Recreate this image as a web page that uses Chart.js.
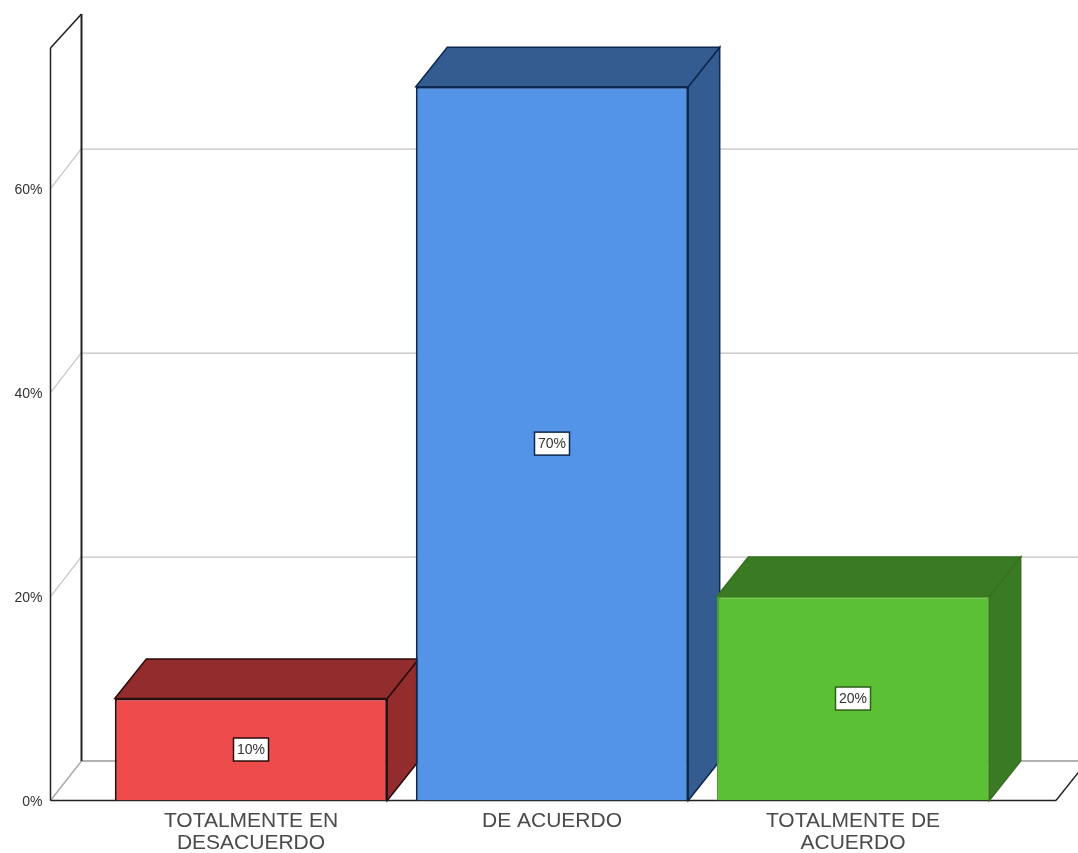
<!DOCTYPE html>
<html>
<head>
<meta charset="utf-8">
<title>Grafico</title>
<script src="https://cdn.jsdelivr.net/npm/chart.js@4"></script>
<style>
  html, body { margin: 0; padding: 0; background: #fff; }
  canvas { display: block; }
</style>
</head>
<body>
<canvas id="myChart" width="1078" height="853"></canvas>
<script>
// datos
const categorias = [['TOTALMENTE EN', 'DESACUERDO'], ['DE ACUERDO'], ['TOTALMENTE DE', 'ACUERDO']];
const porcentajes = [10, 70, 20];
const yTicks = [0, 20, 40, 60];

const colorFrente = ['#ee4b4c', '#5494e6', '#5cc035'];
const colorLado = ['#922c2d', '#345c90', '#3a7a22'];
const colorBorde = ['#2a0c0c', '#0c2750', '#4fa02c'];
const colorBordeLado = ['#2a0c0c', '#0c2750', '#37701f'];

// profundidad del efecto 3D
const dx = 31.5;
const dy = 39.5;

function linea(ctx, x1, y1, x2, y2, color, ancho) {
  ctx.beginPath();
  ctx.moveTo(x1, y1);
  ctx.lineTo(x2, y2);
  ctx.strokeStyle = color;
  ctx.lineWidth = ancho;
  ctx.stroke();
}

function cara(ctx, puntos, relleno, borde) {
  ctx.beginPath();
  puntos.forEach(function (p, i) {
    if (i == 0) ctx.moveTo(p[0], p[1]);
    else ctx.lineTo(p[0], p[1]);
  });
  ctx.closePath();
  ctx.fillStyle = relleno;
  ctx.fill();
  ctx.strokeStyle = borde;
  ctx.lineWidth = 1.5;
  ctx.stroke();
}

// paredes, piso y lineas de fondo
const fondo3d = {
  id: 'fondo3d',
  beforeDatasetsDraw: function (chart) {
    const ctx = chart.ctx;
    const y = chart.scales.y;
    const area = chart.chartArea;
    const xFrente = area.left - 50;
    const xFondo = xFrente + 31;
    const xDer = area.right + 52.5;
    const piso = y.getPixelForValue(0);

    ctx.save();
    yTicks.forEach(function (v) {
      if (v == 0) return;
      const py = y.getPixelForValue(v);
      linea(ctx, xFrente, py, xFondo, py - dy - 0.5, '#c6c6c6', 1.3);
      linea(ctx, xFondo, py - dy, chart.width, py - dy, '#c2c2c2', 1.3);
    });
    // piso
    linea(ctx, xFrente, piso, xFondo, piso - dy, '#aaaaaa', 1.5);
    linea(ctx, xFondo, piso - dy, chart.width, piso - dy, '#999999', 1.5);
    linea(ctx, xDer, piso, xDer + dx, piso - dy, '#222222', 1.5);
    linea(ctx, xFrente, piso, xDer, piso, '#222222', 1.6);
    // paredes
    linea(ctx, xFrente, area.top, xFrente, piso, '#222222', 1.5);
    linea(ctx, xFrente, area.top, xFondo, 14, '#222222', 1.6);
    linea(ctx, xFondo, 14, xFondo, piso - dy, '#222222', 2);

    // caras de arriba y de lado de cada barra
    const barras = chart.getDatasetMeta(0).data;
    barras.forEach(function (b, i) {
      const izq = b.x - b.width / 2;
      const der = b.x + b.width / 2;
      cara(ctx, [[der, b.y], [der + dx, b.y - dy], [der + dx, b.base - dy], [der, b.base]], colorLado[i], colorBordeLado[i]);
      cara(ctx, [[izq, b.y], [izq + dx, b.y - dy], [der + dx, b.y - dy], [der, b.y]], colorLado[i], colorBordeLado[i]);
    });
    ctx.restore();
  }
};

// etiqueta blanca al centro de cada barra
const etiquetas = {
  id: 'etiquetas',
  afterDatasetsDraw: function (chart) {
    const ctx = chart.ctx;
    const barras = chart.getDatasetMeta(0).data;
    ctx.save();
    ctx.font = '14px "Liberation Sans", Arial, sans-serif';
    ctx.textAlign = 'center';
    ctx.textBaseline = 'middle';
    barras.forEach(function (b, i) {
      const cy = (b.y + b.base) / 2;
      ctx.fillStyle = '#ffffff';
      ctx.fillRect(b.x - 17.5, cy - 11.5, 35, 23);
      ctx.strokeStyle = i == 2 ? '#2f5f1c' : colorBorde[i];
      ctx.lineWidth = 1.5;
      ctx.strokeRect(b.x - 17.5, cy - 11.5, 35, 23);
      ctx.fillStyle = '#333333';
      ctx.fillText(porcentajes[i] + '%', b.x, cy + 0.5);
    });
    ctx.restore();
  }
};

const ctx = document.getElementById('myChart').getContext('2d');
const myChart = new Chart(ctx, {
  type: 'bar',
  data: {
    labels: categorias,
    datasets: [{
      data: porcentajes,
      backgroundColor: colorFrente,
      borderColor: colorBorde,
      borderWidth: 2,
      categoryPercentage: 1,
      barPercentage: 0.905
    }]
  },
  options: {
    responsive: false,
    animation: false,
    layout: { padding: { top: 48, right: 74.5, left: 0, bottom: 0 } },
    plugins: {
      legend: { display: false },
      tooltip: { enabled: false },
      title: { display: false }
    },
    scales: {
      x: {
        grid: { display: false, drawTicks: false },
        border: { display: false },
        afterFit: function (scale) {
          scale.height = 52.5;
          scale.paddingLeft = 0;
          scale.paddingRight = 0;
        },
        ticks: {
          autoSkip: false,
          maxRotation: 0,
          padding: 10,
          color: '#4a4a4a',
          font: { family: '"Liberation Sans", Arial, sans-serif', size: 21, lineHeight: 1.05 }
        }
      },
      y: {
        min: 0,
        max: 73.8,
        grid: { display: false, drawTicks: false },
        border: { display: false },
        // el padding de los ticks no debe mover el area del grafico
        afterFit: function (scale) {
          scale.width = 100.5;
          scale.paddingTop = 0;
          scale.paddingBottom = 0;
        },
        afterBuildTicks: function (scale) {
          scale.ticks = yTicks.map(function (v) { return { value: v }; });
        },
        ticks: {
          padding: 58,
          labelOffset: 1.5,
          color: '#333333',
          font: { family: '"Liberation Sans", Arial, sans-serif', size: 14 },
          callback: function (v) { return v + '%'; }
        }
      }
    }
  },
  plugins: [fondo3d, etiquetas]
});
</script>
</body>
</html>
